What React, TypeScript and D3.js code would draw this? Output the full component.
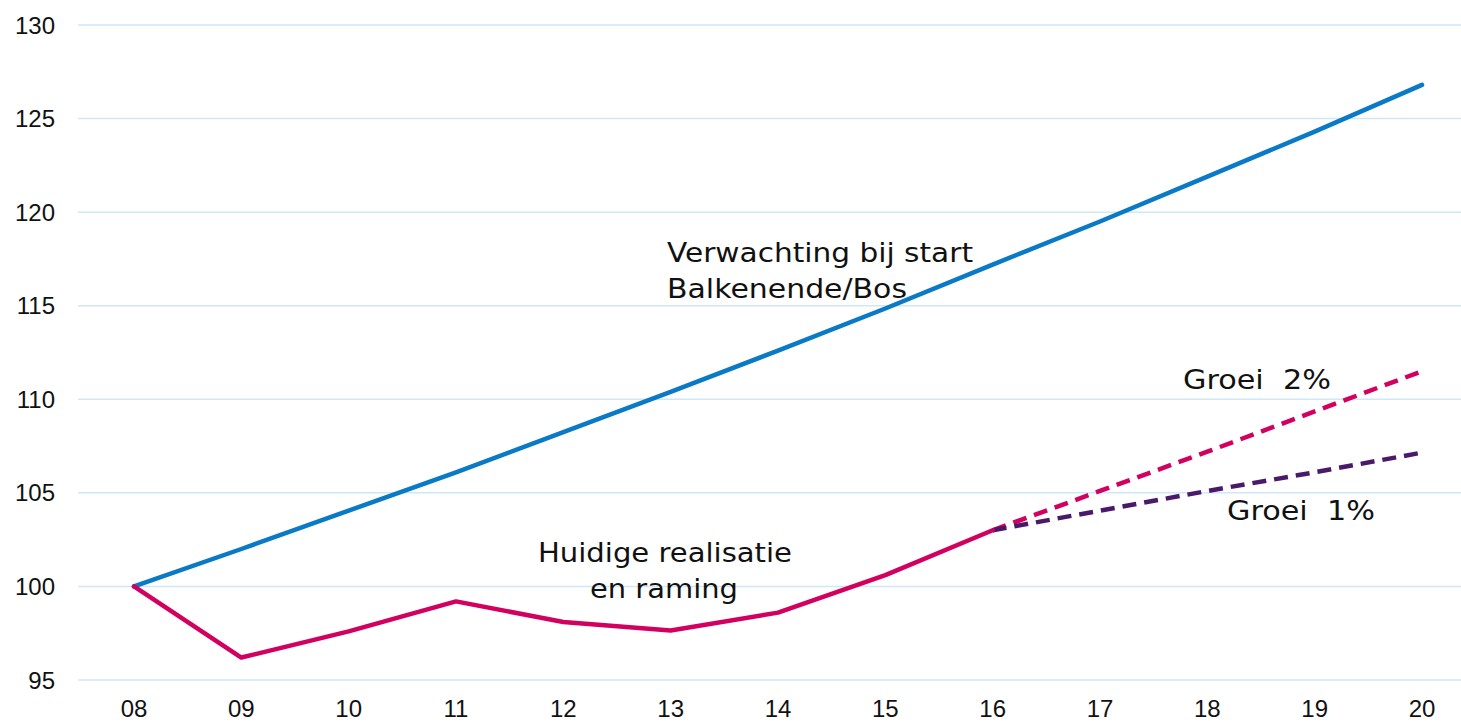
import React from "react";
import * as d3 from "d3";

const years = ["08", "09", "10", "11", "12", "13", "14", "15", "16", "17", "18", "19", "20"];
const expectation = [100, 102, 104.05, 106.1, 108.25, 110.4, 112.6, 114.85, 117.2, 119.5, 121.9, 124.3, 126.8];
const realisedYears = ["08", "09", "10", "11", "12", "13", "14", "15", "16"];
const realised = [100, 96.2, 97.6, 99.2, 98.1, 97.65, 98.6, 100.6, 103.0];
const forecastYears = ["16", "17", "18", "19", "20"];
const growth2 = [103.0, 105.1, 107.2, 109.35, 111.5];
const growth1 = [103.0, 104.05, 105.1, 106.1, 107.15];
const yTicks = [95, 100, 105, 110, 115, 120, 125, 130];

const W = 1461;
const H = 723;

export default function App() {
  const x = d3.scalePoint<string>().domain(years).range([134, 1422]);
  const y = d3.scaleLinear().domain([95, 130]).range([680, 25]);
  const line = (xs: string[], vs: number[]) =>
    d3
      .line<number>()
      .x((_, i) => x(xs[i]) as number)
      .y((v) => y(v))(vs) as string;

  const tickFont = "'Liberation Sans', Arial, sans-serif";
  const annFont = "'DejaVu Sans', Verdana, sans-serif";

  return (
    <svg
      width={W}
      height={H}
      style={{ position: "absolute", left: 0, top: 0, background: "#fff" }}
    >
      {yTicks.map((t) => (
        <g key={t}>
          <line x1={78} x2={W} y1={y(t)} y2={y(t)} stroke="#cfe7f8" strokeWidth={1.5} />
          <text
            x={55}
            y={y(t) + 8.5}
            textAnchor="end"
            fontFamily={tickFont}
            fontSize={24}
            fill="#111"
          >
            {t}
          </text>
        </g>
      ))}
      {years.map((yr) => (
        <text
          key={yr}
          x={x(yr)}
          y={717}
          textAnchor="middle"
          fontFamily={tickFont}
          fontSize={24}
          fill="#111"
        >
          {yr}
        </text>
      ))}
      <path d={line(years, expectation)} fill="none" stroke="#0a7ac6" strokeWidth={4.5} strokeLinecap="round" strokeLinejoin="round" />
      <path d={line(forecastYears, growth2)} fill="none" stroke="#d2005f" strokeWidth={4.5} strokeDasharray="14 8" />
      <path d={line(forecastYears, growth1)} fill="none" stroke="#4a1a6a" strokeWidth={4.5} strokeDasharray="14 8" />
      <path d={line(realisedYears, realised)} fill="none" stroke="#d2005f" strokeWidth={4.5} strokeLinecap="round" strokeLinejoin="round" />

      <g fontFamily={annFont} fontSize={26} fill="#111">
        <text x={667} y={262} textLength={306} lengthAdjust="spacingAndGlyphs">Verwachting bij start</text>
        <text x={667} y={298} textLength={240} lengthAdjust="spacingAndGlyphs">Balkenende/Bos</text>
        <text x={538} y={562} textLength={254} lengthAdjust="spacingAndGlyphs">Huidige realisatie</text>
        <text x={590} y={598} textLength={148} lengthAdjust="spacingAndGlyphs">en raming</text>
        <text x={1183} y={389} xmlSpace="preserve" textLength={148} lengthAdjust="spacingAndGlyphs">Groei  2%</text>
        <text x={1227} y={520} xmlSpace="preserve" textLength={148} lengthAdjust="spacingAndGlyphs">Groei  1%</text>
      </g>
    </svg>
  );
}
